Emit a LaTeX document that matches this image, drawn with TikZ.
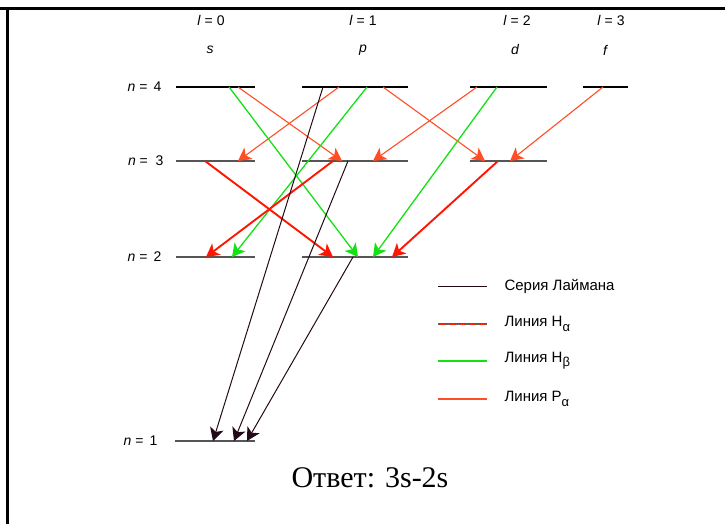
\documentclass[tikz,border=0pt]{standalone}
\usepackage{fontspec}
\setmainfont{Liberation Sans}
\newfontfamily\answerfont{Liberation Serif}
\usetikzlibrary{arrows.meta, positioning}

\definecolor{palpha}{RGB}{255,78,38}
\definecolor{halpha}{RGB}{255,22,0}
\definecolor{hbeta}{RGB}{20,225,20}
\definecolor{lyman}{RGB}{35,10,25}
\definecolor{levelgray}{RGB}{85,85,85}

\begin{document}
\begin{tikzpicture}[
    x=1pt, y=-1pt,
    level/.style={
        rectangle, inner sep=0pt, outer sep=0pt,
        minimum height=1.4pt, fill=levelgray
    },
    toplevel/.style={
        level, minimum height=2.4pt, fill=black
    },
    head/.style={font=\fontsize{14}{16}\selectfont},
    orbital/.style={font=\fontsize{14}{16}\selectfont\itshape},
    nlabel/.style={anchor=east, font=\fontsize{14}{16}\selectfont},
    legend/.style={anchor=west, font=\fontsize{15}{17}\selectfont},
    trans/.style={-{Stealth[length=13pt, width=14pt, inset=3.5pt]}},
    lymanline/.style={trans, color=lyman, line width=1pt},
    halphaline/.style={trans, color=halpha, line width=1.9pt},
    hbetaline/.style={trans, color=hbeta, line width=1.3pt},
    palphaline/.style={trans, color=palpha, line width=1.1pt}
]
\useasboundingbox (0,0) rectangle (725,524);

% Frame (top and left edge)
\draw[line width=2.5pt] (0,8.5) -- (725,8.5);
\draw[line width=2.5pt] (7.5,8.5) -- (7.5,524);

% Column headings
\node[head] (l0) at (211,20) {\textit{l} = 0};
\node[head] (l1) at (363,20) {\textit{l} = 1};
\node[head] (l2) at (517,20) {\textit{l} = 2};
\node[head] (l3) at (611,20) {\textit{l} = 3};
\node[orbital] (os) at (210,50) {s};
\node[orbital] (op) at (363,50) {p};
\node[orbital] (od) at (515,50) {d};
\node[orbital] (of) at (605,50) {f};

% Energy levels
\node[toplevel, minimum width=79pt] (s4) at (215.5,87) {};
\node[toplevel, minimum width=106pt] (p4) at (355,87) {};
\node[toplevel, minimum width=77pt] (d4) at (508.5,87) {};
\node[toplevel, minimum width=45pt] (f4) at (605.5,87) {};
\node[level, minimum width=79pt] (s3) at (215.5,161) {};
\node[level, minimum width=106pt] (p3) at (355,161) {};
\node[level, minimum width=77pt] (d3) at (508.5,161) {};
\node[level, minimum width=79pt] (s2) at (215.5,257) {};
\node[level, minimum width=106pt] (p2) at (355,257) {};
\node[level, minimum width=80pt] (s1) at (215,441) {};

% Principal quantum numbers
\node[nlabel] (n4) at (165,87) {\textit{n} =\ \,4};
\node[nlabel] (n3) at (167,161) {\textit{n} =\ \ 3};
\node[nlabel] (n2) at (165,257) {\textit{n} =\ \,2};
\node[nlabel] (n1) at (161,441) {\textit{n} =\ \,1};

% Paschen alpha (n=4 -> n=3)
\draw[palphaline] ([xshift=22.5pt]s4.center) -- ([xshift=-13pt]p3.center);
\draw[palphaline] ([xshift=-16pt]p4.center) -- ([xshift=22.5pt]s3.center);
\draw[palphaline] ([xshift=28pt]p4.center) -- ([xshift=-23.5pt]d3.center);
\draw[palphaline] ([xshift=-31.5pt]d4.center) -- ([xshift=18pt]p3.center);
\draw[palphaline] ([xshift=-2.5pt]f4.center) -- ([xshift=1.5pt]d3.center);

% H beta (n=4 -> n=2)
\draw[hbetaline] ([xshift=13.5pt]s4.center) -- ([xshift=3pt]p2.center);
\draw[hbetaline] ([xshift=12pt]p4.center) -- ([xshift=16.5pt]s2.center);
\draw[hbetaline] ([xshift=-11.5pt]d4.center) -- ([xshift=18pt]p2.center);

% H alpha (n=3 -> n=2)
\draw[halphaline] ([xshift=-10.5pt]s3.center) -- ([xshift=-22pt]p2.center);
\draw[halphaline] ([xshift=-22pt]p3.center) -- ([xshift=-9.5pt]s2.center);
\draw[halphaline] ([xshift=-10.5pt]d3.center) -- ([xshift=37pt]p2.center);

% Lyman series (np -> 1s)
\draw[lymanline] ([xshift=-32pt]p4.center) -- ([xshift=-2pt]s1.center);
\draw[lymanline] ([xshift=-7pt]p3.center) -- ([xshift=19pt]s1.center);
\draw[lymanline] ([xshift=-2pt]p2.center) -- ([xshift=32pt]s1.center);

% Legend
\coordinate (lyA) at (438,286);
\coordinate (lyB) at (487,286);
\coordinate (haA) at (438,324);
\coordinate (haB) at (487,324);
\coordinate (hbA) at (438,361);
\coordinate (hbB) at (487,361);
\coordinate (paA) at (438,399);
\coordinate (paB) at (487,399);
\draw[color=lyman, line width=1pt] (lyA) -- (lyB);
\draw[color=halpha, line width=2.3pt] (haA) -- (haB);
\draw[color=black!55, line width=0.5pt, dotted] (haA) -- (haB);
\draw[color=hbeta, line width=1.2pt] (hbA) -- (hbB);
\draw[color=palpha, line width=1.2pt] (paA) -- (paB);
\node[legend] (lyT) at (501,286) {Серия Лаймана};
\node[legend] (haT) at (501,324) {Линия H\raisebox{-0.55ex}{\fontsize{13}{15}\selectfont α}};
\node[legend] (hbT) at (501,361) {Линия H\raisebox{-0.55ex}{\fontsize{13}{15}\selectfont β}};
\node[legend] (paT) at (501,399) {Линия P\raisebox{-0.55ex}{\fontsize{13}{15}\selectfont α}};

% Answer
\node[anchor=base, font=\answerfont\fontsize{30}{34}\selectfont] (answer) at (370,487) {Ответ: 3s-2s};

\end{tikzpicture}
\end{document}
